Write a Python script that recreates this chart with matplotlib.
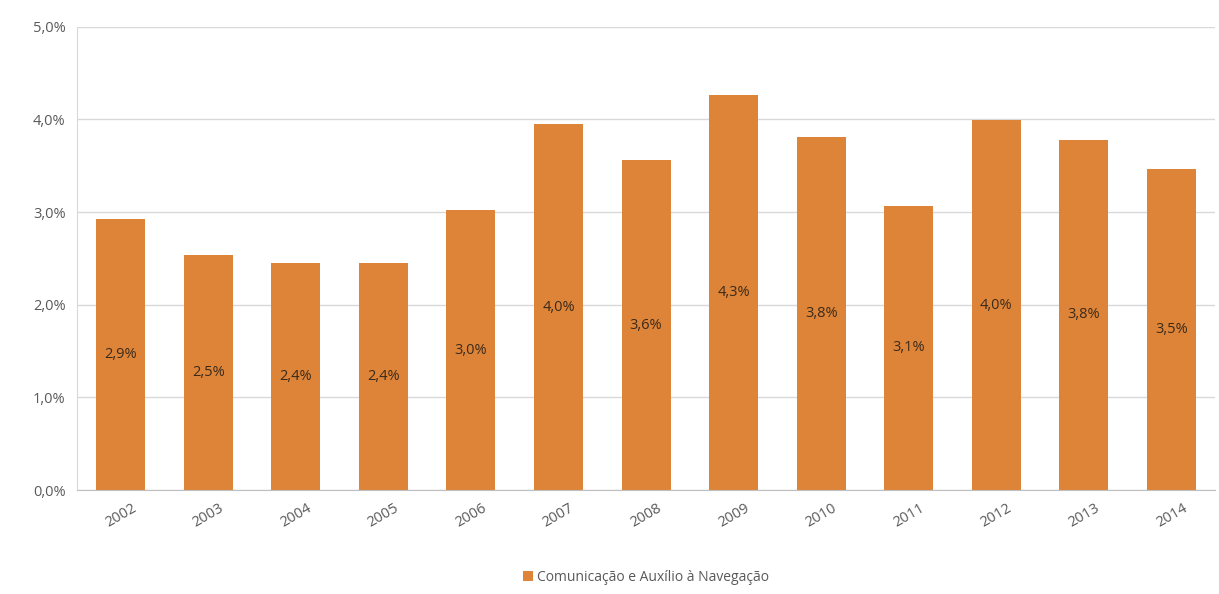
import numpy as np
import matplotlib.pyplot as plt
from matplotlib.ticker import FuncFormatter

years = ['2002', '2003', '2004', '2005', '2006', '2007', '2008',
         '2009', '2010', '2011', '2012', '2013', '2014']
values = [2.93, 2.54, 2.45, 2.45, 3.02, 3.95, 3.56, 4.26, 3.81, 3.07, 3.99, 3.78, 3.47]
labels = ['2,9%', '2,5%', '2,4%', '2,4%', '3,0%', '4,0%', '3,6%',
          '4,3%', '3,8%', '3,1%', '4,0%', '3,8%', '3,5%']
series_name = 'Comunicação e Auxílio à Navegação'

plt.rcParams['font.family'] = ['Open Sans', 'DejaVu Sans']

fig = plt.figure(figsize=(12.19, 5.94), dpi=100)
ax = fig.add_axes([0.063, 0.175, 0.934, 0.78])

x = np.arange(len(years))
bars = ax.bar(x, values, width=0.56, color='#DD8439', label=series_name, zorder=2)

# labels sit in the middle of each bar
for xi, v, lab in zip(x, values, labels):
    ax.text(xi, v / 2, lab, ha='center', va='center', fontsize=10.5, color='#3b2a1a', zorder=3)

ax.set_ylim(0, 5)
ax.set_xlim(-0.5, len(years) - 0.5)
ax.set_yticks(np.arange(0, 5.01, 1))
ax.yaxis.set_major_formatter(FuncFormatter(lambda v, p: f'{v:.1f}%'.replace('.', ',')))
ax.set_xticks(x)
ax.set_xticklabels(years, rotation=30, fontsize=10.5)
ax.tick_params(axis='y', labelsize=10.5, colors='#595959', length=0, pad=8)
ax.tick_params(axis='x', colors='#595959', length=0, pad=8)

ax.grid(axis='y', color='#d9d9d9', linewidth=1, zorder=0)
for s in ['top', 'right']:
    ax.spines[s].set_visible(False)
ax.spines['left'].set_color('#d9d9d9')
ax.spines['bottom'].set_color('#bfbfbf')

ax.legend(loc='upper center', bbox_to_anchor=(0.5, -0.145), frameon=False,
          fontsize=10, handlelength=0.7, handleheight=0.7, handletextpad=0.3,
          labelcolor='#595959')

fig.savefig('out.png', dpi=100)
